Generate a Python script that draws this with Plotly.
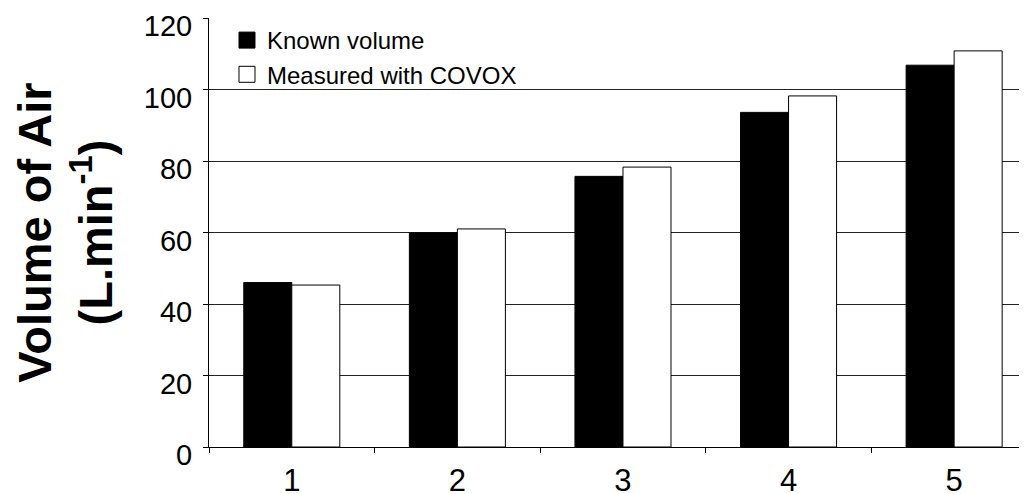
import plotly.graph_objects as go

categories = ["1", "2", "3", "4", "5"]
known_volume = [46.0, 59.9, 75.7, 93.6, 106.8]
measured_covox = [45.3, 61.0, 78.3, 98.2, 110.8]
y_ticks = [0, 20, 40, 60, 80, 100, 120]

FONT = "Arial, 'Liberation Sans', Helvetica, sans-serif"

fig = go.Figure()
fig.add_trace(go.Bar(x=categories, y=known_volume, name="Known volume",
                     marker=dict(color="black", line=dict(color="black", width=1)),
                     showlegend=False))
fig.add_trace(go.Bar(x=categories, y=measured_covox, name="Measured with COVOX",
                     marker=dict(color="white", line=dict(color="black", width=1)),
                     showlegend=False))
# legend proxies (bigger square swatches)
fig.add_trace(go.Scatter(x=[None], y=[None], mode="markers", name="Known volume",
                         marker=dict(symbol="square", size=16, color="black",
                                     line=dict(color="black", width=1))))
fig.add_trace(go.Scatter(x=[None], y=[None], mode="markers", name="Measured with COVOX",
                         marker=dict(symbol="square", size=16, color="white",
                                     line=dict(color="black", width=1))))

fig.update_layout(
    width=1019, height=486,
    margin=dict(l=201, r=0, t=10, b=47, autoexpand=False),
    paper_bgcolor="white", plot_bgcolor="white",
    barmode="group", bargap=0.42, bargroupgap=0,
    font=dict(family=FONT, color="black"),
    legend=dict(x=0.022, y=1.0, xanchor="left", yanchor="top",
                font=dict(size=24, family=FONT, color="black"),
                bgcolor="rgba(0,0,0,0)", itemsizing="trace",
                tracegroupgap=0),
    showlegend=True,
)
fig.update_xaxes(
    type="category", range=[-0.5, 4.44],
    showline=True, linecolor="black", linewidth=1,
    ticks="outside", tickson="boundaries", ticklen=5, tickcolor="black",
    tickfont=dict(size=31, family=FONT, color="black"),
    ticklabelstandoff=6,
    showgrid=False, automargin=False,
)
fig.update_yaxes(
    range=[0, 120], tickvals=y_ticks,
    showline=True, linecolor="black", linewidth=1,
    ticks="outside", ticklen=5, tickcolor="black",
    tickfont=dict(size=29, family=FONT, color="black"),
    ticklabelstandoff=5, ticklabelshift=8, ticklabeloverflow="allow",
    showgrid=True, gridcolor="#222", gridwidth=1, zeroline=False,
    title=dict(text="<b>Volume of Air</b><br><b>(L.min<sup>-1</sup>)</b>",
               font=dict(size=47, family=FONT, color="black"), standoff=36),
    automargin=False,
)

fig.write_html("out.html")
